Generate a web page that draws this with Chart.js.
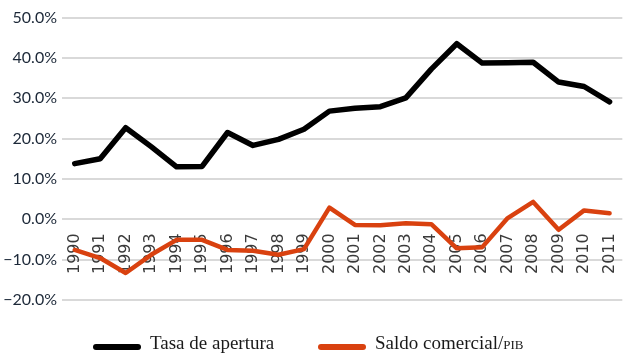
<!DOCTYPE html>
<html>
<head>
<meta charset="utf-8">
<script src="https://cdn.jsdelivr.net/npm/chart.js@4/dist/chart.umd.min.js"></script>
<style>
  html, body { margin: 0; padding: 0; background: #fff; }
  #wrap { position: relative; width: 643px; height: 356px; }
  #legend { position: absolute; left: 0; top: 0; width: 643px; height: 356px; pointer-events: none; }
  .item { position: absolute; top: 332px; display: flex; align-items: center; font-family: "Liberation Serif", serif; font-size: 19px; color: #1a1a1a; white-space: nowrap; }
  .swatch { display: inline-block; width: 48px; height: 6px; border-radius: 3px; margin-right: 9px; margin-top: 8px; }
  .sc { font-variant: small-caps; text-transform: lowercase; }
</style>
</head>
<body>
<div id="wrap">
  <canvas id="c" width="643" height="356"></canvas>
  <div id="legend"></div>
</div>
<script>
const years = ['1990','1991','1992','1993','1994','1995','1996','1997','1998','1999','2000','2001','2002','2003','2004','2005','2006','2007','2008','2009','2010','2011'];
const tasaApertura = [13.8, 15.0, 22.7, 18.0, 13.0, 13.1, 21.5, 18.3, 19.8, 22.3, 26.8, 27.5, 27.9, 30.1, 37.2, 43.5, 38.7, 38.8, 38.9, 34.0, 32.9, 29.1];
const saldoComercial = [-7.6, -9.6, -13.3, -8.8, -5.1, -5.1, -7.6, -7.8, -8.8, -7.4, 2.9, -1.4, -1.5, -1.0, -1.2, -7.2, -6.9, 0.3, 4.3, -2.6, 2.2, 1.5];
const yTicks = [-20, -10, 0, 10, 20, 30, 40, 50];
const seriesNames = ['Tasa de apertura', 'Saldo comercial/PIB'];
const seriesColors = ['#000000', '#D9410F'];

const chart = new Chart(document.getElementById('c'), {
  type: 'line',
  data: {
    labels: years,
    datasets: [
      { label: seriesNames[0], data: tasaApertura, borderColor: seriesColors[0], backgroundColor: seriesColors[0], borderWidth: 5.5, pointRadius: 0, tension: 0, borderJoinStyle: 'round', borderCapStyle: 'round' },
      { label: seriesNames[1], data: saldoComercial, borderColor: seriesColors[1], backgroundColor: seriesColors[1], borderWidth: 4.5, pointRadius: 0, tension: 0, borderJoinStyle: 'round', borderCapStyle: 'round' }
    ]
  },
  options: {
    responsive: false,
    animation: false,
    layout: { padding: { left: 0, right: 10, top: 17.5, bottom: 56 } },
    plugins: { legend: { display: false }, tooltip: { enabled: false } },
    scales: {
      x: {
        type: 'category',
        position: { y: 0 },
        offset: true,
        grid: { display: false, drawTicks: false },
        border: { display: false },
        ticks: { autoSkip: false, maxRotation: 90, minRotation: 90, padding: 14, color: '#3a3a3a', font: { family: 'DejaVu Sans', size: 16 } },
        afterFit: s => { s.height = 0; }
      },
      y: {
        min: -20, max: 50,
        afterBuildTicks: s => { s.ticks = yTicks.map(v => ({ value: v })); },
        grid: { color: '#d9d9d9', lineWidth: 2, drawTicks: false },
        border: { display: false },
        ticks: {
          padding: 5, color: '#1c2838', font: { family: 'Lato', size: 16 },
          callback: v => (v < 0 ? '\u2212' : '') + Math.abs(v).toFixed(1) + '%'
        },
        afterFit: s => { s.width = 62; }
      }
    }
  }
});

// HTML legend built from the chart's datasets
const legend = document.getElementById('legend');
const legendLeft = [93, 318];
chart.data.datasets.forEach((ds, i) => {
  const item = document.createElement('div');
  item.className = 'item';
  item.style.left = legendLeft[i] + 'px';
  const sw = document.createElement('span');
  sw.className = 'swatch';
  sw.style.background = ds.borderColor;
  item.appendChild(sw);
  const txt = document.createElement('span');
  const m = ds.label.match(/^(.*\/)(PIB)$/);
  if (m) {
    txt.appendChild(document.createTextNode(m[1]));
    const sc = document.createElement('span');
    sc.className = 'sc';
    sc.textContent = m[2];
    txt.appendChild(sc);
  } else {
    txt.textContent = ds.label;
  }
  item.appendChild(txt);
  legend.appendChild(item);
});
</script>
</body>
</html>
